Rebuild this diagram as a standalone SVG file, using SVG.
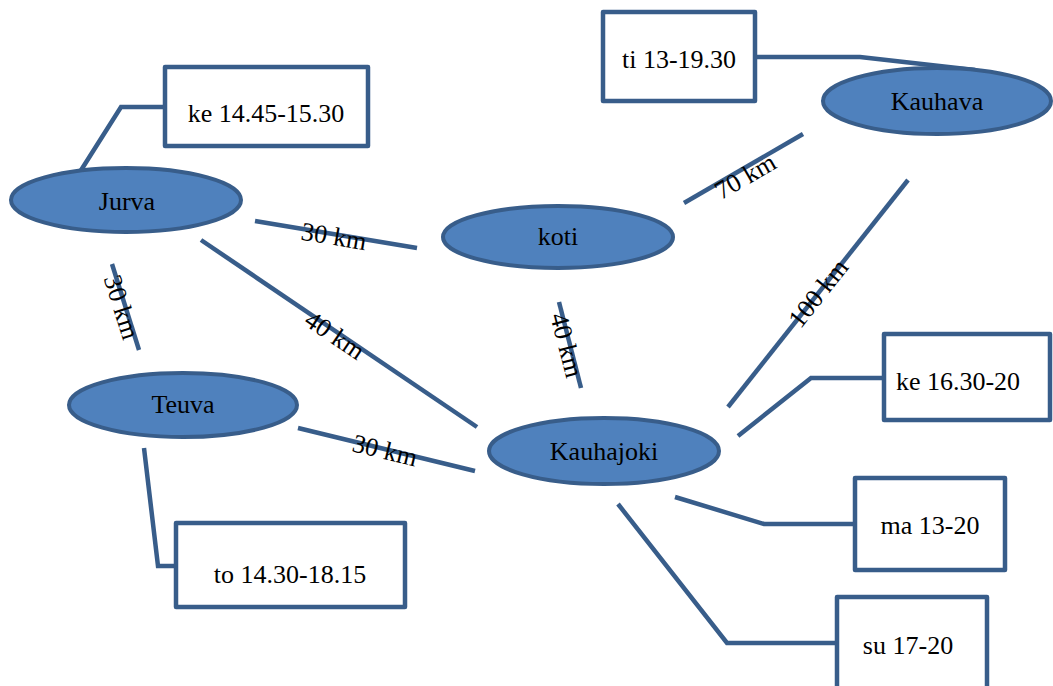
<svg xmlns="http://www.w3.org/2000/svg" width="1053" height="686" viewBox="0 0 1053 686">
<style>
.ell{fill:#4F81BD;stroke:#385D8A;stroke-width:4}
.box{fill:#fff;stroke:#385D8A;stroke-width:4.5;stroke-linejoin:round}
.ln{fill:none;stroke:#385D8A;stroke-width:4.5;stroke-linejoin:miter}
text{font-family:"Liberation Serif","Times New Roman",serif;font-size:26px;fill:#000;text-anchor:middle}
</style>
<rect width="1053" height="686" fill="#fff"/>
<g id="connectors">
<polyline class="ln" points="78,175 121,107 165,107"/>
<polyline class="ln" points="755,57 860,57 975,70"/>
<polyline class="ln" points="144,448 158,566 176,566"/>
<polyline class="ln" points="738,436 811,378 884,378"/>
<polyline class="ln" points="675,497 764,524 855,524"/>
<polyline class="ln" points="618,504 727,643 837,643"/>
<line class="ln" x1="255" y1="221" x2="417" y2="248"/>
<line class="ln" x1="112" y1="264" x2="139" y2="350"/>
<line class="ln" x1="201" y1="240" x2="477" y2="427"/>
<line class="ln" x1="298" y1="428" x2="475" y2="471"/>
<line class="ln" x1="559" y1="302" x2="581" y2="388"/>
<line class="ln" x1="684" y1="203" x2="803" y2="134"/>
<line class="ln" x1="728" y1="407" x2="908" y2="180"/>
<text transform="translate(334,236) rotate(9.5)" y="9">30 km</text>
<text transform="translate(122,307) rotate(72.6)" y="9">30 km</text>
<text transform="translate(335,335) rotate(34)" y="9">40 km</text>
<text transform="translate(385,450) rotate(13.7)" y="9">30 km</text>
<text transform="translate(567,345) rotate(75.6)" y="9">40 km</text>
<text transform="translate(745,176) rotate(-30)" y="9">70 km</text>
<text transform="translate(818,293) rotate(-51.6)" y="9">100 km</text>
</g>
<g id="jurva"><ellipse class="ell" cx="126" cy="200" rx="115" ry="32"/><text x="127" y="210">Jurva</text></g>
<g id="koti"><ellipse class="ell" cx="558" cy="237" rx="115" ry="31"/><text x="558" y="245">koti</text></g>
<g id="kauhava"><ellipse class="ell" cx="937" cy="101" rx="114" ry="33"/><text x="937" y="110">Kauhava</text></g>
<g id="teuva"><ellipse class="ell" cx="183" cy="405" rx="114" ry="32"/><text x="183" y="413">Teuva</text></g>
<g id="kauhajoki"><ellipse class="ell" cx="604" cy="451" rx="115" ry="33"/><text x="604" y="460">Kauhajoki</text></g>
<g id="box-jurva"><rect class="box" x="165" y="67" width="203" height="79"/><text x="266" y="122">ke 14.45-15.30</text></g>
<g id="box-kauhava"><rect class="box" x="603" y="12" width="152" height="89"/><text x="679" y="68">ti 13-19.30</text></g>
<g id="box-ke"><rect class="box" x="884" y="334" width="166" height="86"/><text x="958" y="390">ke 16.30-20</text></g>
<g id="box-ma"><rect class="box" x="855" y="478" width="150" height="92"/><text x="930" y="534">ma 13-20</text></g>
<g id="box-su"><rect class="box" x="837" y="597" width="150" height="110"/><text x="908" y="654">su 17-20</text></g>
<g id="box-teuva"><rect class="box" x="176" y="523" width="229" height="84"/><text x="290" y="583">to 14.30-18.15</text></g>
</svg>
